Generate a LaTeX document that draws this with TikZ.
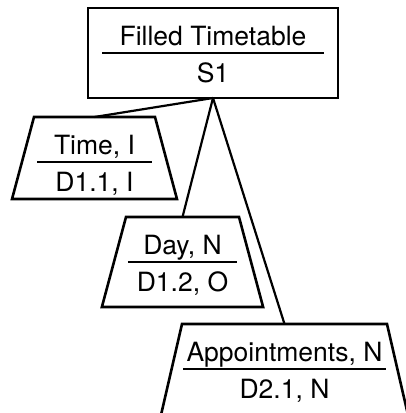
\documentclass[tikz,border=0pt]{standalone}
\usepackage{fontspec}
\setmainfont{TeX Gyre Heros}
\usetikzlibrary{shapes.geometric,positioning}

\begin{document}
\begin{tikzpicture}[
  entity/.style={draw,line width=2.6pt,outer sep=0pt,inner sep=0pt,minimum width=250pt,minimum height=90pt},
  attr/.style={trapezium,trapezium angle=75,draw,line width=2.6pt,outer sep=0pt,inner sep=0pt,text depth=0pt},
  lbl/.style={inner sep=0pt,font=\fontsize{26.5}{31}\selectfont},
  sepline/.style={line width=2pt},
  link/.style={line width=2.2pt},
  ]
  \useasboundingbox (0,0) rectangle (405pt,-413pt);
  \node[entity] (filled) at (213pt,-53pt) {};
  \node[attr, text width=121pt, text height=82pt, below=19pt of filled.south, xshift=-118.5pt] (time) {};
  \node[attr, text width=113pt, text height=90pt, below=119pt of filled.south, xshift=-30.5pt] (day) {};
  \node[attr, trapezium angle=77, text width=205pt, text height=110pt, below=226pt of filled.south, xshift=71.5pt] (appt) {};

  \foreach \n/\u/\l in {filled/Filled Timetable/S1, time/{Time, I}/{D1.1, I}, day/{Day, N}/{D1.2, O}, appt/{Appointments, N}/{D2.1, N}}{
    \coordinate (\n-s) at ([yshift=-45pt]\n.north);
    \draw[sepline] ([xshift=14pt]\n.west |- \n-s) -- ([xshift=-14pt]\n.east |- \n-s);
    \node[lbl, anchor=base] (\n-u) at ([yshift=-37pt]\n.north) {\u};
    \node[lbl, anchor=base] (\n-l) at ([yshift=-74pt]\n.north) {\l};
  }

  \draw[link] (filled.south) -- (time.north);
  \draw[link] (filled.south) -- (day.north);
  \draw[link] (filled.south) -- (appt.north);
\end{tikzpicture}
\end{document}
